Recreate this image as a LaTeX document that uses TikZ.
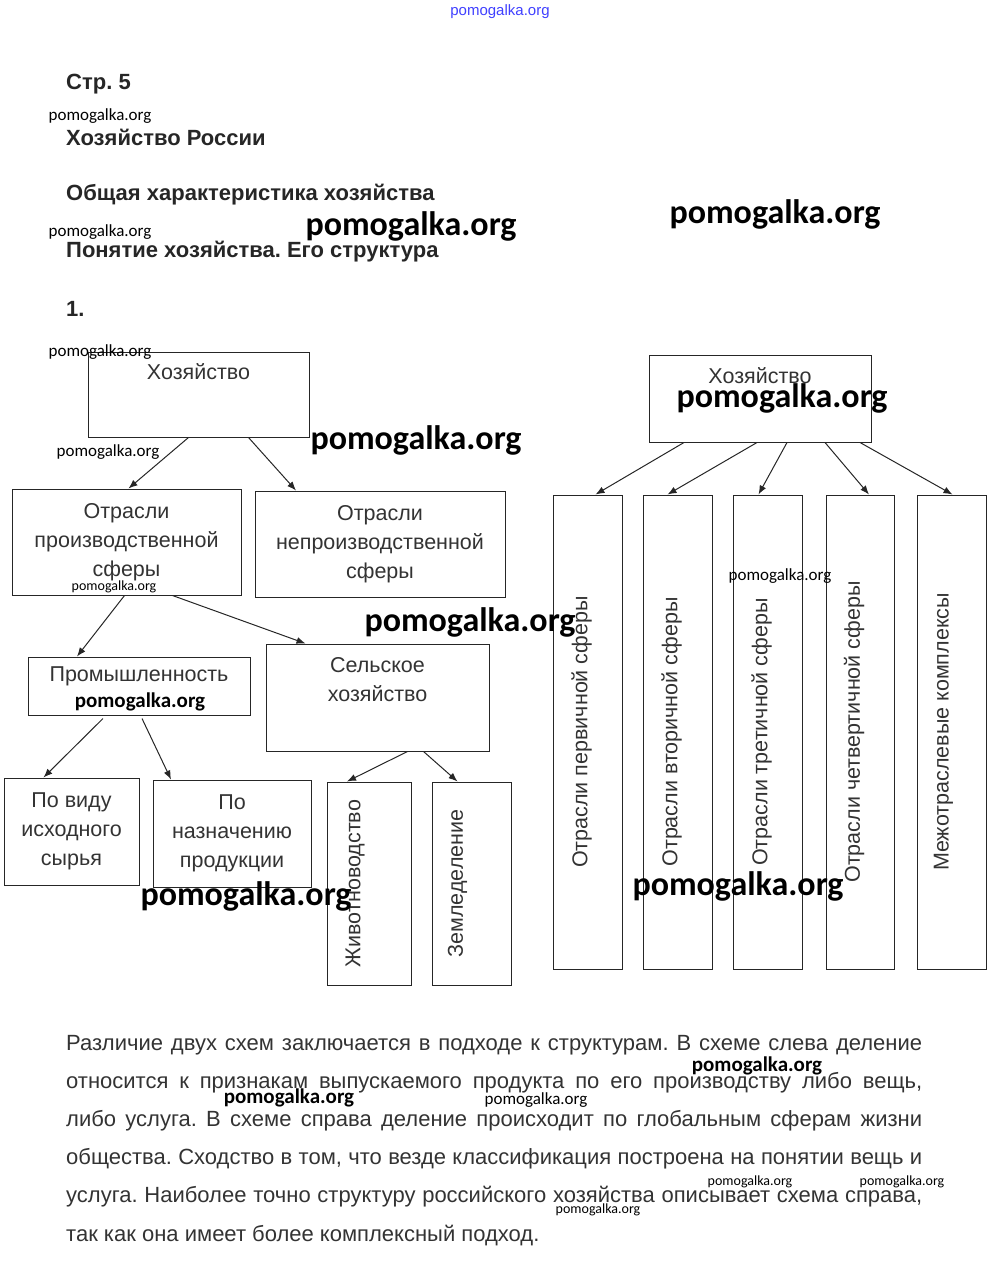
\documentclass[tikz,border=0pt]{standalone}
\usepackage{fontspec}
\setmainfont{Liberation Sans}
\newfontfamily\wmfont{Carlito}
\usetikzlibrary{arrows.meta, positioning}
\frenchspacing

\begin{document}
\begin{tikzpicture}[x=1pt, y=-1pt,
  cell/.style={draw=black!85, line width=1pt, inner sep=0pt, align=center, font=\fontsize{21.5}{29}\selectfont, text=black!80},
  celltext/.style={inner sep=0pt, align=center, font=\fontsize{21.5}{29}\selectfont, text=black!80},
  vtext/.style={celltext, rotate=90},
  head/.style={anchor=base west, inner sep=0pt, font=\fontsize{22}{26}\selectfont\bfseries, text=black!85},
  bodyline/.style={anchor=base west, inner sep=0pt, font=\fontsize{22}{26}\selectfont, text=black!80},
  arr/.style={-{Latex[length=9pt, width=7pt]}, line width=1pt, black!85},
  wmbig/.style={inner sep=0pt, font=\wmfont\fontsize{34}{37}\selectfont\bfseries},
  wmmid/.style={inner sep=0pt, font=\wmfont\fontsize{21}{24}\selectfont\bfseries},
  wmsmall/.style={inner sep=0pt, font=\wmfont\fontsize{17}{20}\selectfont},
  wmtiny/.style={inner sep=0pt, font=\wmfont\fontsize{14}{16}\selectfont},
]
\useasboundingbox (0,0) rectangle (999,1265);

% Heading
\node[head] (page) at (66,90) {Стр. 5};
\node[head] (topic) at (66,146) {Хозяйство России};
\node[head] (sect) at (66,201) {Общая характеристика хозяйства};
\node[head] (sub) at (66,258) {Понятие хозяйства. Его структура};
\node[head] (num) at (66,316) {1.};

% Left scheme
\node[cell, minimum width=221pt, minimum height=85pt] (hozL) at (198.5,394.5) {};
\node[celltext] (hozLt) at ([yshift=-20pt]hozL.north) {Хозяйство};
\node[cell, minimum width=229pt, minimum height=106pt] (prod) at (126.5,542) {Отрасли\\производственной\\сферы};
\node[cell, minimum width=250pt, minimum height=106pt] (nonprod) at (380,544) {Отрасли\\непроизводственной\\сферы};
\node[cell, minimum width=222pt, minimum height=58pt] (prom) at (139,686) {};
\node[celltext] (promt) at ([yshift=-20pt]prom.north) {Промышленность};
\node[cell, minimum width=223pt, minimum height=107pt] (selsk) at (377.5,697.5) {};
\node[celltext] (selskt) at ([yshift=-36pt]selsk.north) {Сельское\\хозяйство};
\node[cell, minimum width=135pt, minimum height=107pt] (vid) at (71.5,831.5) {По виду\\исходного\\сырья};
\node[cell, minimum width=158pt, minimum height=107pt] (naz) at (232,833.5) {По\\назначению\\продукции};
\node[cell, minimum width=84pt, minimum height=203pt] (zhiv) at (369,883.5) {};
\node[vtext] (zhivt) at ([xshift=-14pt]zhiv.center) {Животноводство};
\node[cell, minimum width=79pt, minimum height=203pt] (zeml) at (471.5,883.5) {};
\node[vtext] (zemlt) at ([xshift=-14pt]zeml.center) {Земледеление};

\draw[arr] ([xshift=-10pt]hozL.south) -- ([xshift=2pt]prod.north);
\draw[arr] ([xshift=50pt]hozL.south) -- ([xshift=-84pt]nonprod.north);
\draw[arr] ([xshift=-2pt]prod.south) -- ([xshift=-62pt]prom.north);
\draw[arr] ([xshift=46pt]prod.south) -- ([xshift=-72pt]selsk.north);
\draw[arr] ([xshift=-36pt, yshift=-3pt]prom.south) -- ([xshift=-28pt]vid.north);
\draw[arr] ([xshift=3pt, yshift=-3pt]prom.south) -- ([xshift=-61pt]naz.north);
\draw[arr] ([xshift=30pt]selsk.south) -- ([xshift=-22pt]zhiv.north);
\draw[arr] ([xshift=46pt]selsk.south) -- ([xshift=-14pt]zeml.north);

% Right scheme
\node[cell, minimum width=222pt, minimum height=87pt] (hozR) at (760,398.5) {};
\node[celltext] (hozRt) at ([yshift=-21pt]hozR.north) {Хозяйство};
\node[cell, minimum width=69pt, minimum height=474pt] (b1) at (587.5,732) {};
\node[cell, minimum width=69pt, minimum height=474pt] (b2) at (677.5,732) {};
\node[cell, minimum width=69pt, minimum height=474pt] (b3) at (767.5,732) {};
\node[cell, minimum width=68pt, minimum height=474pt] (b4) at (860,732) {};
\node[cell, minimum width=69pt, minimum height=474pt] (b5) at (951.5,732) {};
\node[vtext] (b1t) at ([xshift=-6pt]b1.center) {Отрасли первичной сферы};
\node[vtext] (b2t) at ([xshift=-6pt]b2.center) {Отрасли вторичной сферы};
\node[vtext] (b3t) at ([xshift=-6pt]b3.center) {Отрасли третичной сферы};
\node[vtext] (b4t) at ([xshift=-6pt]b4.center) {Отрасли четвертичной сферы};
\node[vtext] (b5t) at ([xshift=-8pt]b5.center) {Межотраслевые комплексы};

\foreach \n/\a/\b in {b1/-76/8, b2/-3/-10, b3/27/-9, b4/65/9, b5/100/1} {
  \draw[arr] ([xshift=\a pt]hozR.south) -- ([xshift=\b pt]\n.north);
}

% Answer text
\node[bodyline] (l1) at (66,1050) {\makebox[856pt][s]{Различие двух схем заключается в подходе к структурам. В схеме слева деление}};
\node[bodyline] (l2) at (66,1088) {\makebox[856pt][s]{относится к признакам выпускаемого продукта по его производству либо вещь,}};
\node[bodyline] (l3) at (66,1126) {\makebox[856pt][s]{либо услуга. В схеме справа деление происходит по глобальным сферам жизни}};
\node[bodyline] (l4) at (66,1164) {\makebox[856pt][s]{общества. Сходство в том, что везде классификация построена на понятии вещь и}};
\node[bodyline] (l5) at (66,1202) {\makebox[856pt][s]{услуга. Наиболее точно структуру российского хозяйства описывает схема справа,}};
\node[bodyline] (l6) at (66,1241) {так как она имеет более комплексный подход.};

% Watermarks
\node[inner sep=0pt, font=\fontsize{15}{17}\selectfont, text=blue!75] (wm0) at (500,12) {pomogalka.org};
\foreach \x/\y [count=\i] in {411/226, 775/214, 416/440, 470/622, 246/896, 782/398, 738/886} {
  \node[wmbig] (wmb\i) at (\x,\y) {pomogalka.org};
}
\foreach \x/\y [count=\i] in {140/702, 757/1066, 289/1098} {
  \node[wmmid] (wmm\i) at (\x,\y) {pomogalka.org};
}
\foreach \x/\y [count=\i] in {100/116, 100/232, 100/352, 108/452, 536/1100, 780/576} {
  \node[wmsmall] (wms\i) at (\x,\y) {pomogalka.org};
}
\foreach \x/\y [count=\i] in {114/587, 750/1182, 902/1182, 598/1210} {
  \node[wmtiny] (wmt\i) at (\x,\y) {pomogalka.org};
}

\end{tikzpicture}
\end{document}
